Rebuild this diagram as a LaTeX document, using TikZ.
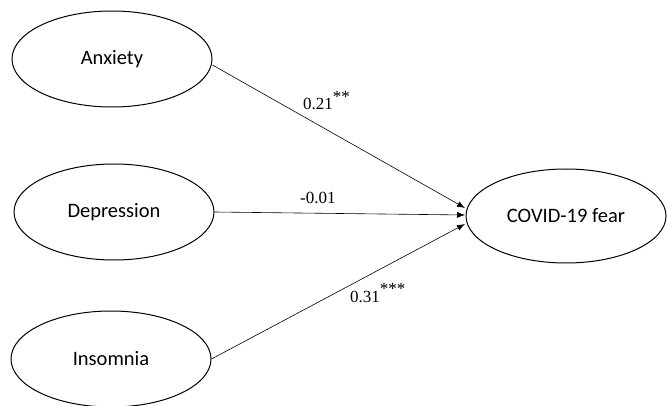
\documentclass[tikz,border=0pt]{standalone}
\usepackage{fontspec}
\setmainfont{Liberation Serif}
\newfontfamily\lblfont{Carlito}
\usetikzlibrary{shapes.geometric,arrows.meta}
\begin{document}
\begin{tikzpicture}[x=1pt,y=-1pt,
  var/.style={draw, line width=1.0pt, ellipse, minimum width=200pt, minimum height=96pt, inner sep=0pt, font=\lblfont\fontsize{20.5}{24}\selectfont},
  path/.style={line width=0.6pt, -{Latex[length=8pt,width=6pt]}},
  coef/.style={font=\fontsize{17}{20}\selectfont, inner sep=0pt, anchor=base west}]
\useasboundingbox (0,0) rectangle (667,406);
\node[var] (anx) at (112,59) {Anxiety};
\node[var] (dep) at (114,212) {Depression};
\node[var] (ins) at (111,359) {Insomnia};
\node[var, minimum height=94pt] (cov) at (566,216) {COVID-19 fear};
\coordinate (t1) at (465,208);
\coordinate (t2) at (465,215);
\coordinate (t3) at (465,224);
\draw[path] (anx.east |- 0,65) -- (t1);
\draw[path] (dep.east) -- (t2);
\draw[path] (ins.east) -- (t3);
\node[coef] (c1) at (303,110) {0.21\raisebox{0.42em}{**}};
\node[coef] (c2) at (300,204) {-0.01};
\node[coef] (c3) at (350,302) {0.31\raisebox{0.42em}{***}};
\end{tikzpicture}
\end{document}
